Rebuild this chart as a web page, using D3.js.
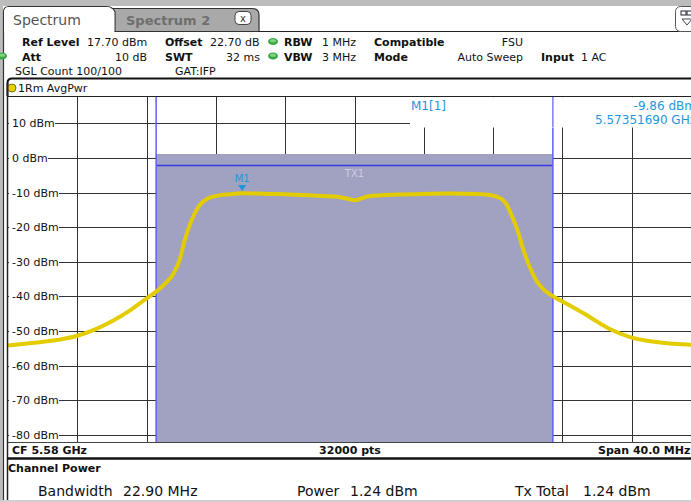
<!DOCTYPE html>
<html>
<head>
<meta charset="utf-8">
<script src="https://cdn.jsdelivr.net/npm/d3@7"></script>
<style>
  html, body { margin: 0; padding: 0; background: #fff; }
  svg { display: block; font-family: "DejaVu Sans", Verdana, sans-serif; }
  .crisp { shape-rendering: crispEdges; }
</style>
</head>
<body>
<svg id="chart" width="691" height="502"></svg>
<script>
// analyzer settings
const cfMHz = 5580;
const spanMHz = 40;
const refLevelDbm = 17.7;
const rangeDb = 100;
const yTicks = [10, 0, -10, -20, -30, -40, -50, -60, -70, -80];

// channel power measurement
const channelBwMHz = 22.9;
const channelPowerDbm = 1.24;
const channelLineDbm = -2.2;

// marker M1
const markerFreqMHz = 5573.5169;
const markerDbm = -9.86;

// trace 1 (AvgPwr), frequency offset from CF in MHz / level in dBm
const traceOffsetMHz = [-20, -18.5, -17, -16, -15, -14, -13, -12.2, -11.5, -10.9, -10.4, -10.1, -9.8, -9.5, -9.2, -8.9, -8.5, -8, -7.2, -6.5,
  -5, -4, -2.2, -1, -0.4, 0, 0.4, 0.8, 2.5, 4, 5.5, 7, 7.8, 8.2, 8.55, 8.8, 9, 9.4, 9.75, 10.1,
  10.5, 11, 11.5, 12.3, 13.2, 14, 14.8, 15.9, 17.4, 19.4, 20];
const traceDbm = [-54.2, -53.4, -52.5, -51.4, -49.6, -47.2, -44.2, -41.3, -38.8, -36.2, -33.0, -29.5, -23.8, -19.2, -15.8, -13.4, -11.8, -11.0, -10.5, -10.2,
  -10.4, -10.5, -10.9, -11.2, -11.8, -12.2, -11.7, -11.1, -10.6, -10.4, -10.3, -10.4, -10.7, -11.2, -12.1, -13.6, -15.8, -20.8, -26.6, -31.4,
  -35.5, -38.4, -40.1, -42.3, -44.8, -47.3, -49.6, -51.8, -53.2, -54.0, -54.2];

const W = 691, H = 502;
const plot = { left: 8, right: 701, top: 96.7, bottom: 442.7 };
const svg = d3.select("#chart");

const x = d3.scaleLinear().domain([-spanMHz / 2, spanMHz / 2]).range([plot.left, plot.right]);
const y = d3.scaleLinear().domain([refLevelDbm - rangeDb, refLevelDbm]).range([plot.bottom, plot.top]);

// ---------- frame / tabs ----------
svg.append("rect").attr("width", W).attr("height", H).attr("fill", "#fff");
svg.append("rect").attr("width", W).attr("height", 6).attr("fill", "#bcbcbc");
svg.append("rect").attr("width", 3).attr("height", H).attr("fill", "#bcbcbc");

// inactive tab
svg.append("path")
  .attr("d", "M110,31.5 L110,8.5 L252,8.5 Q259,8.5 259,15 L259,31.5 Z")
  .attr("fill", "#a9a9a9").attr("stroke", "#333").attr("stroke-width", 1.2);
svg.append("rect").attr("x", 235).attr("y", 11.5).attr("width", 16).attr("height", 13).attr("rx", 4)
  .attr("fill", "#fff").attr("stroke", "#444");
svg.append("text").attr("x", 243).attr("y", 22).attr("text-anchor", "middle")
  .attr("font-size", 10).attr("fill", "#333").text("x");
svg.append("text").attr("x", 126).attr("y", 25).attr("font-size", 13).attr("font-weight", "bold")
  .attr("fill", "#6e6e6e").text("Spectrum 2");

// active tab
svg.append("path")
  .attr("d", "M3.5,502 L3.5,12 Q3.5,6.5 9,6.5 L106,6.5 Q113,6.5 115,12 L115,31.5")
  .attr("fill", "none").attr("stroke", "#333").attr("stroke-width", 1.2);
svg.append("path").attr("d", "M4,32 L4,13 Q4,7 9,7 L106,7 Q112,7 114.4,12 L114.4,32 Z").attr("fill", "#fff");
svg.append("text").attr("x", 13).attr("y", 25).attr("font-size", 14).attr("fill", "#555").text("Spectrum");

svg.append("line").attr("class", "crisp").attr("x1", 259).attr("x2", W).attr("y1", 31.5).attr("y2", 31.5)
  .attr("stroke", "#222").attr("stroke-width", 1.5);

// display config icon (top right)
svg.append("rect").attr("x", 675.5).attr("y", 6.5).attr("width", 26).attr("height", 25).attr("rx", 5)
  .attr("fill", "#fff").attr("stroke", "#555");
svg.append("rect").attr("x", 681).attr("y", 11).attr("width", 5).attr("height", 4).attr("fill", "none").attr("stroke", "#223");
svg.append("rect").attr("x", 687).attr("y", 11).attr("width", 5).attr("height", 4).attr("fill", "none").attr("stroke", "#223");
svg.append("path").attr("d", "M682,19 L692,19 L687,25 Z").attr("fill", "none").attr("stroke", "#445");

// ---------- settings header ----------
const hdr = svg.append("g").attr("font-size", 11).attr("fill", "#111");
const headerItems = [
  ["Ref Level", 22, 46, true, "start"], ["17.70 dBm", 87, 46, false, "start"],
  ["Offset", 165, 46, true, "start"], ["22.70 dB", 210, 46, false, "start"],
  ["RBW", 284, 46, true, "start"], ["1 MHz", 322, 46, false, "start"],
  ["Compatible", 374, 46, true, "start"], ["FSU", 523, 46, false, "end"],
  ["Att", 22, 60.5, true, "start"], ["10 dB", 147, 60.5, false, "end"],
  ["SWT", 165, 60.5, true, "start"], ["32 ms", 260, 60.5, false, "end"],
  ["VBW", 284, 60.5, true, "start"], ["3 MHz", 322, 60.5, false, "start"],
  ["Mode", 374, 60.5, true, "start"], ["Auto Sweep", 523, 60.5, false, "end"],
  ["Input", 541, 60.5, true, "start"], ["1 AC", 581, 60.5, false, "start"],
  ["SGL Count 100/100", 15, 75, false, "start"], ["GAT:IFP", 175, 75, false, "start"]
];
hdr.selectAll("text").data(headerItems).join("text")
  .attr("x", d => d[1]).attr("y", d => d[2])
  .attr("font-weight", d => d[3] ? "bold" : "normal")
  .attr("text-anchor", d => d[4])
  .text(d => d[0]);

// status LEDs
[[273, 41.5], [273, 56], [2, 56]].forEach(([cx, cy]) => {
  svg.append("ellipse").attr("cx", cx).attr("cy", cy).attr("rx", 5).attr("ry", 3.5).attr("fill", "#3aa845");
  svg.append("ellipse").attr("cx", cx).attr("cy", cy - 0.8).attr("rx", 3).attr("ry", 1.6).attr("fill", "#7fd27f");
});

// ---------- trace label row ----------
svg.append("path").attr("d", `M7.5,96 L7.5,83 Q7.5,78.5 12,78.5 L${W},78.5`)
  .attr("fill", "none").attr("stroke", "#111").attr("stroke-width", 2);
svg.append("circle").attr("cx", 12).attr("cy", 88).attr("r", 4)
  .attr("fill", "#e8cf00").attr("stroke", "#665c00").attr("stroke-width", 0.8);
svg.append("text").attr("x", 18).attr("y", 92).attr("font-size", 11).attr("fill", "#111").text("1Rm AvgPwr");

// ---------- diagram ----------
const grid = svg.append("g").attr("class", "crisp").attr("stroke", "#333").attr("stroke-width", 1);
const vLines = d3.range(1, 10).map(i => -spanMHz / 2 + i * spanMHz / 10);
grid.selectAll("line.v").data(vLines).join("line").attr("class", "v")
  .attr("x1", d => Math.round(x(d)) + 0.5).attr("x2", d => Math.round(x(d)) + 0.5)
  .attr("y1", plot.top).attr("y2", plot.bottom);
grid.selectAll("line.h").data(yTicks).join("line").attr("class", "h")
  .attr("x1", plot.left).attr("x2", plot.right)
  .attr("y1", d => Math.round(y(d)) + 0.5).attr("y2", d => Math.round(y(d)) + 0.5);

// channel bar
const chLeft = x(-channelBwMHz / 2), chRight = x(channelBwMHz / 2);
svg.append("rect").attr("class", "crisp")
  .attr("x", chLeft).attr("y", y(channelPowerDbm))
  .attr("width", chRight - chLeft).attr("height", plot.bottom - y(channelPowerDbm))
  .attr("fill", "#a1a1c1");
svg.append("line").attr("x1", chLeft).attr("x2", chRight)
  .attr("y1", y(channelLineDbm)).attr("y2", y(channelLineDbm))
  .attr("stroke", "#3a3ae8").attr("stroke-width", 1.5);
svg.selectAll("line.ch").data([-channelBwMHz / 2, channelBwMHz / 2]).join("line").attr("class", "ch")
  .attr("x1", d => x(d)).attr("x2", d => x(d)).attr("y1", plot.top).attr("y2", plot.bottom)
  .attr("stroke", "#5e5eff").attr("stroke-width", 1.5);
svg.append("text").attr("x", x(0)).attr("y", 177).attr("text-anchor", "middle")
  .attr("font-size", 10).attr("fill", "#cfcfe0").text("TX1");

// trace
svg.append("clipPath").attr("id", "clip").append("rect")
  .attr("x", plot.left).attr("y", plot.top).attr("width", plot.right - plot.left).attr("height", plot.bottom - plot.top);
const traceData = traceOffsetMHz.map((f, i) => ({ f, v: traceDbm[i] }));
svg.append("path").datum(traceData)
  .attr("clip-path", "url(#clip)")
  .attr("fill", "none").attr("stroke", "#e3cd00").attr("stroke-width", 4).attr("stroke-linejoin", "round")
  .attr("d", d3.line().x(d => x(d.f)).y(d => y(d.v)).curve(d3.curveMonotoneX));

// marker
const mx = x(markerFreqMHz - cfMHz), my = y(markerDbm);
svg.append("path").attr("d", `M${mx - 4},${my - 7} L${mx + 4},${my - 7} L${mx},${my - 1} Z`).attr("fill", "#1f96dc");
svg.append("text").attr("x", mx).attr("y", my - 10).attr("text-anchor", "middle")
  .attr("font-size", 10).attr("fill", "#1f96dc").text("M1");

// marker info box
svg.append("rect").attr("x", 410).attr("y", plot.top + 0.5).attr("width", W - 410).attr("height", 127 - plot.top)
  .attr("fill", "#fff");
svg.append("line").attr("x1", chRight).attr("x2", chRight).attr("y1", plot.top).attr("y2", 127)
  .attr("stroke", "#7d7dff").attr("stroke-width", 1.5);
const mInfo = svg.append("g").attr("font-size", 12).attr("fill", "#1f96dc");
mInfo.append("text").attr("x", 411).attr("y", 109.5).text("M1[1]");
mInfo.append("text").attr("x", 696).attr("y", 109.5).attr("text-anchor", "end").text(`${markerDbm.toFixed(2)} dBm`);
mInfo.append("text").attr("x", 696).attr("y", 124).attr("text-anchor", "end")
  .text(`${(markerFreqMHz / 1000).toFixed(8)} GHz`);

// y tick labels
const yLab = svg.append("g").attr("font-size", 11).attr("fill", "#111");
yTicks.forEach(t => {
  const txt = yLab.append("text").attr("x", 12).attr("y", y(t) + 4).text(`${t} dBm`);
  const bb = txt.node().getBBox();
  yLab.insert("rect", "text").attr("class", "crisp")
    .attr("x", plot.left + 0.5).attr("y", bb.y).attr("width", bb.x + bb.width - plot.left).attr("height", bb.height)
    .attr("fill", "#fff");
});

// plot borders
svg.append("line").attr("class", "crisp").attr("x1", plot.left).attr("x2", W).attr("y1", 96.5).attr("y2", 96.5)
  .attr("stroke", "#222");
svg.append("line").attr("class", "crisp").attr("x1", plot.left).attr("x2", W).attr("y1", 442.5).attr("y2", 442.5)
  .attr("stroke", "#444");
svg.append("line").attr("x1", 7.5).attr("x2", 7.5).attr("y1", 83).attr("y2", 500)
  .attr("stroke", "#222").attr("stroke-width", 1.5);

// bottom axis info row
const foot = svg.append("g").attr("font-size", 11).attr("font-weight", "bold").attr("fill", "#111");
foot.append("text").attr("x", 12).attr("y", 454).text(`CF ${(cfMHz / 1000).toFixed(2)} GHz`);
foot.append("text").attr("x", 350).attr("y", 454).attr("text-anchor", "middle").text("32000 pts");
foot.append("text").attr("x", 598).attr("y", 454).text(`Span ${spanMHz.toFixed(1)} MHz`);
svg.append("line").attr("x1", 7).attr("x2", W).attr("y1", 458.5).attr("y2", 458.5)
  .attr("stroke", "#111").attr("stroke-width", 2.5);

// ---------- channel power result ----------
svg.append("text").attr("x", 8).attr("y", 472).attr("font-size", 11).attr("font-weight", "bold")
  .attr("fill", "#111").text("Channel Power");
const res = svg.append("g").attr("font-size", 14).attr("fill", "#111");
const resultItems = [
  ["Bandwidth", 38], [`${channelBwMHz.toFixed(2)} MHz`, 123],
  ["Power", 297], [`${channelPowerDbm.toFixed(2)} dBm`, 350],
  ["Tx Total", 515], [`${channelPowerDbm.toFixed(2)} dBm`, 583]
];
res.selectAll("text").data(resultItems).join("text")
  .attr("x", d => d[1]).attr("y", 496).text(d => d[0]);
svg.append("rect").attr("x", 0).attr("y", 500).attr("width", W).attr("height", 2).attr("fill", "#cfcfcf");
</script>
</body>
</html>
